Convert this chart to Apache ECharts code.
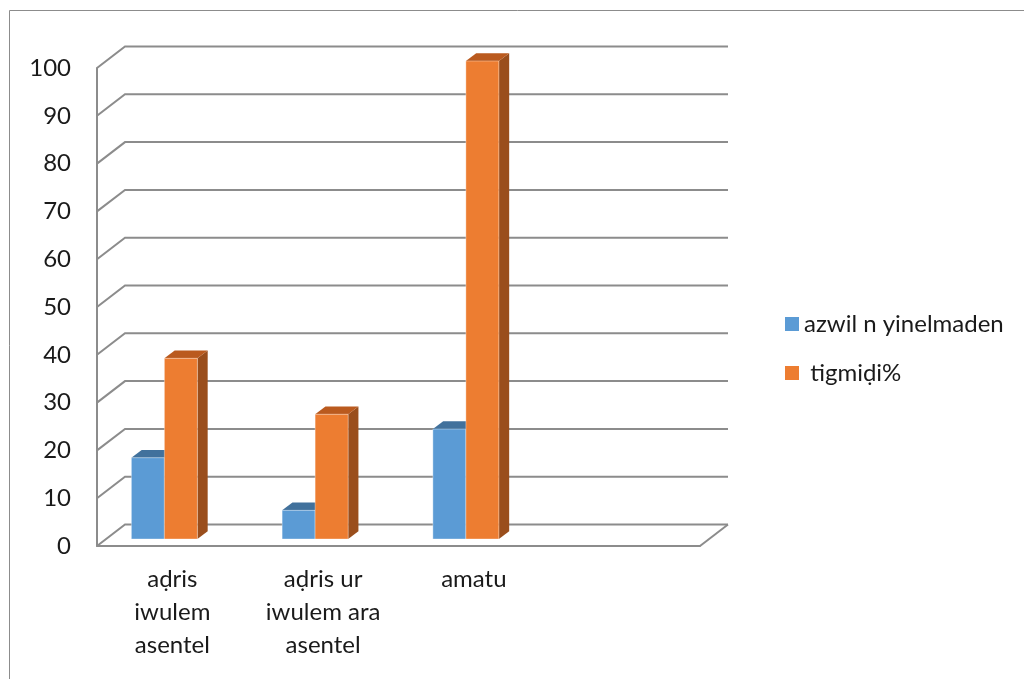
<!DOCTYPE html>
<html>
<head>
<meta charset="utf-8">
<script src="https://cdn.jsdelivr.net/npm/echarts@6/dist/echarts.min.js"></script>
<style>html,body{margin:0;padding:0;background:#fff;}#c{width:1024px;height:679px;}</style>
</head>
<body>
<div id="c"></div>
<script>
const categories = ['aḍris\niwulem\nasentel', 'aḍris ur\niwulem ara\nasentel', 'amatu', ''];
const seriesNames = ['azwil n yinelmaden', ' tigmiḍi%'];
const azwilValues = [17, 6, 23];
const tigmidiValues = [37.8, 26.1, 100];
const yTicks = [0, 10, 20, 30, 40, 50, 60, 70, 80, 90, 100];

const FONT = 'Lato, "Noto Sans", sans-serif';
const WALL_DX = 28, WALL_DY = -21.5;
const FACE_DX = -8, FACE_DY = -7, BAR_W = 33, BAR_DX = 10.3, BAR_DY = -7.7;
const GRID_COLOR = '#8c8c8c';

const palettes = [
  { front: '#5B9BD5', top: '#41719C', side: '#3A6690' },
  { front: '#ED7D31', top: '#BA5A1E', side: '#9A4E1C' }
];

function barRenderer(idx) {
  const col = palettes[idx];
  return function (params, api) {
    const cat = api.value(0), v = api.value(1);
    const top = api.coord([cat, v]);
    const base = api.coord([cat, 0]);
    const left = top[0] + FACE_DX - (idx === 0 ? BAR_W : 0);
    const yT = top[1] + FACE_DY, yB = base[1] + FACE_DY;
    const R = left + BAR_W;
    return {
      type: 'group',
      children: [
        { type: 'polygon', shape: { points: [[R, yT], [R + BAR_DX, yT + BAR_DY], [R + BAR_DX, yB + BAR_DY], [R, yB]] }, style: { fill: col.side } },
        { type: 'polygon', shape: { points: [[left, yT], [R, yT], [R + BAR_DX, yT + BAR_DY], [left + BAR_DX, yT + BAR_DY]] }, style: { fill: col.top } },
        { type: 'rect', shape: { x: left, y: yT, width: BAR_W, height: yB - yT }, style: { fill: col.front, stroke: 'rgba(255,255,255,0.35)', lineWidth: 1 } }
      ]
    };
  };
}

function gridRenderer(params, api) {
  const v = api.value(1);
  const p = api.coord([0, v]);
  const cs = params.coordSys;
  const x0 = cs.x, y = p[1];
  const children = [{
    type: 'polyline',
    shape: { points: [[x0, y], [x0 + WALL_DX, y + WALL_DY], [x0 + cs.width + WALL_DX, y + WALL_DY]] },
    style: { stroke: GRID_COLOR, lineWidth: 2, fill: null }
  }];
  if (v === 0) {
    children.push({
      type: 'line',
      shape: { x1: x0 + cs.width, y1: y, x2: x0 + cs.width + WALL_DX, y2: y + WALL_DY },
      style: { stroke: GRID_COLOR, lineWidth: 2 }
    });
  }
  return { type: 'group', children };
}

const chart = echarts.init(document.getElementById('c'), null, { renderer: 'canvas' });
chart.setOption({
  animation: false,
  backgroundColor: '#fff',
  graphic: [{
    type: 'rect', silent: true, z: -10,
    shape: { x: 9.5, y: 10.5, width: 1100, height: 800 },
    style: { fill: null, stroke: GRID_COLOR, lineWidth: 1 }
  }],
  grid: { left: 97, top: 68, width: 603, height: 478, containLabel: false },
  legend: {
    data: seriesNames,
    orient: 'vertical',
    left: 780, top: 307,
    itemWidth: 14, itemHeight: 14, itemGap: 25,
    icon: 'rect',
    textStyle: { fontFamily: FONT, fontSize: 24, color: '#1a1a1a', padding: [0, 0, 0, 0] }
  },
  xAxis: {
    type: 'category',
    data: categories,
    axisLine: { show: true, lineStyle: { color: GRID_COLOR, width: 2 } },
    axisTick: { show: false },
    axisLabel: { interval: 0, margin: 17, fontFamily: FONT, fontSize: 24, lineHeight: 33, color: '#1a1a1a', align: 'center' },
    splitLine: { show: false }
  },
  yAxis: {
    type: 'value',
    min: 0, max: 100, interval: 10,
    axisLine: { show: true, lineStyle: { color: GRID_COLOR, width: 2 } },
    axisTick: { show: false },
    axisLabel: { margin: 26, fontFamily: FONT, fontSize: 24, color: '#1a1a1a' },
    splitLine: { show: false }
  },
  series: [
    {
      type: 'custom', name: 'grid', silent: true,
      renderItem: gridRenderer,
      encode: { x: 0, y: 1 },
      data: yTicks.map(v => [0, v]),
      z: 1
    },
    {
      type: 'custom', name: seriesNames[0],
      itemStyle: { color: palettes[0].front },
      renderItem: barRenderer(0),
      encode: { x: 0, y: 1 },
      data: azwilValues.map((v, i) => [i, v]),
      z: 2
    },
    {
      type: 'custom', name: seriesNames[1],
      itemStyle: { color: palettes[1].front },
      renderItem: barRenderer(1),
      encode: { x: 0, y: 1 },
      data: tigmidiValues.map((v, i) => [i, v]),
      z: 3
    }
  ]
});
</script>
</body>
</html>
